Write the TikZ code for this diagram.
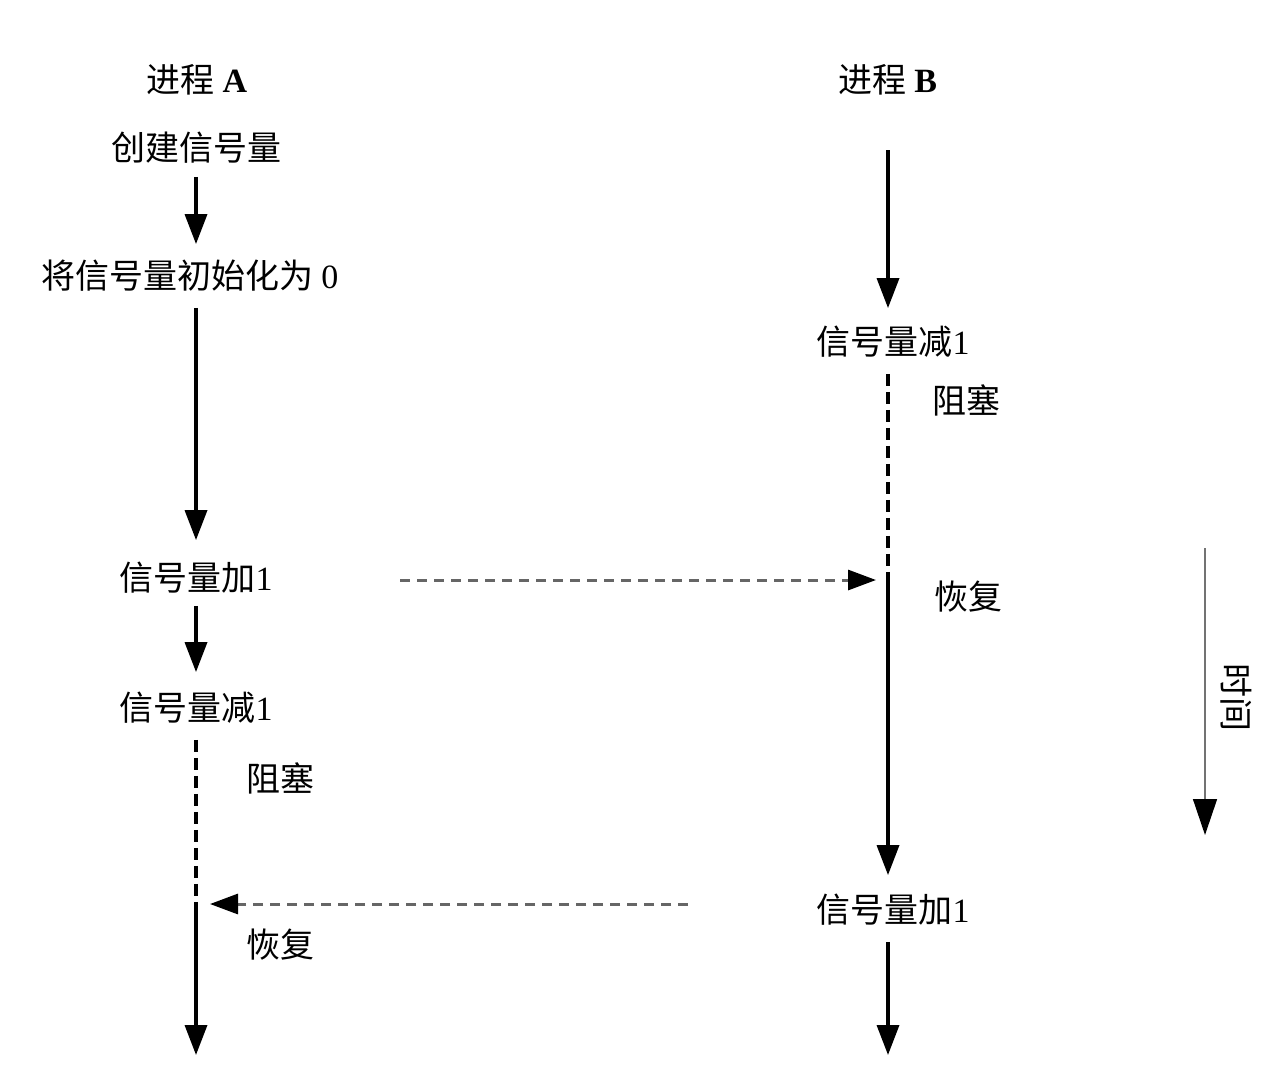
\documentclass[tikz,border=0pt]{standalone}
\usepackage{fontspec}
\setmainfont{Liberation Serif}
\newfontfamily\cjk{Noto Sans CJK SC}
\usetikzlibrary{arrows.meta}
\begin{document}
\begin{tikzpicture}[x=1pt,y=-1pt,
  lbl/.style={font=\fontsize{34}{38}\selectfont\cjk, inner sep=0pt, anchor=center},
  main/.style={line width=3.5pt, -{Triangle[length=30pt,width=22pt]}},
  vdash/.style={line width=3.5pt, dash pattern=on 12pt off 6pt},
  hdash/.style={line width=3pt, draw=black!60, dash pattern=on 10pt off 7pt,
     -{Triangle[length=28pt,width=20pt,color=black,fill=black]}},
  timearrow/.style={line width=1.5pt, draw=black!55, -{Triangle[length=36pt,width=24pt,color=black,fill=black]}}]
\useasboundingbox[fill=white] (0,0) rectangle (1281,1073);

% Process A
\node[lbl] (pa) at (197,80) {进程 {\rmfamily\bfseries A}};
\node[lbl] (create) at (196,148) {创建信号量};
\node[lbl] (init) at (190,276) {将信号量初始化为 {\rmfamily 0}};
\node[lbl] (add1A) at (196,578) {信号量加{\rmfamily 1}};
\node[lbl] (sub1A) at (196,708) {信号量减{\rmfamily 1}};
\node[lbl] (blockA) at (280,778) {阻塞};
\node[lbl] (resumeA) at (280,945) {恢复};
\coordinate (resA) at (196,904);
\coordinate (endA) at (196,1055);

% Process B
\node[lbl] (pb) at (888,80) {进程 {\rmfamily\bfseries B}};
\coordinate (startB) at (888,150);
\node[lbl] (sub1B) at (893,342) {信号量减{\rmfamily 1}};
\node[lbl] (blockB) at (966,400) {阻塞};
\coordinate (resB) at (888,580);
\node[lbl] (resumeB) at (968,597) {恢复};
\node[lbl] (add1B) at (893,910) {信号量加{\rmfamily 1}};
\coordinate (endB) at (888,1055);

% signal sources
\coordinate (sigA) at (400,580);
\coordinate (sigB) at (688,904);

% time
\coordinate (t0) at (1205,548);
\coordinate (t1) at (1205,835);
\node[lbl, rotate=-90] (time) at (1236,697) {时间};

% connectors A
\draw[main, shorten <=13pt, shorten >=16pt] (create.south) -- (create.south |- init.north);
\draw[main, shorten <=16pt, shorten >=22pt] (create.south |- init.south) -- (add1A.north);
\draw[main, shorten <=12pt, shorten >=20pt] (add1A.south) -- (sub1A.north);
\draw[vdash, shorten <=16pt] (sub1A.south) -- (resA);
\draw[main] (resA) -- (endA);

% connectors B
\draw[main, shorten >=18pt] (startB) -- (startB |- sub1B.north);
\draw[vdash, shorten <=16pt] (startB |- sub1B.south) -- (resB);
\draw[main, shorten >=19pt] (resB) -- (startB |- add1B.north);
\draw[main, shorten <=16pt] (startB |- add1B.south) -- (endB);

% signals
\draw[hdash, shorten >=12pt] (sigA) -- (resB);
\draw[hdash, shorten >=14pt] (sigB) -- (resA);

% time arrow
\draw[timearrow] (t0) -- (t1);
\end{tikzpicture}
\end{document}
